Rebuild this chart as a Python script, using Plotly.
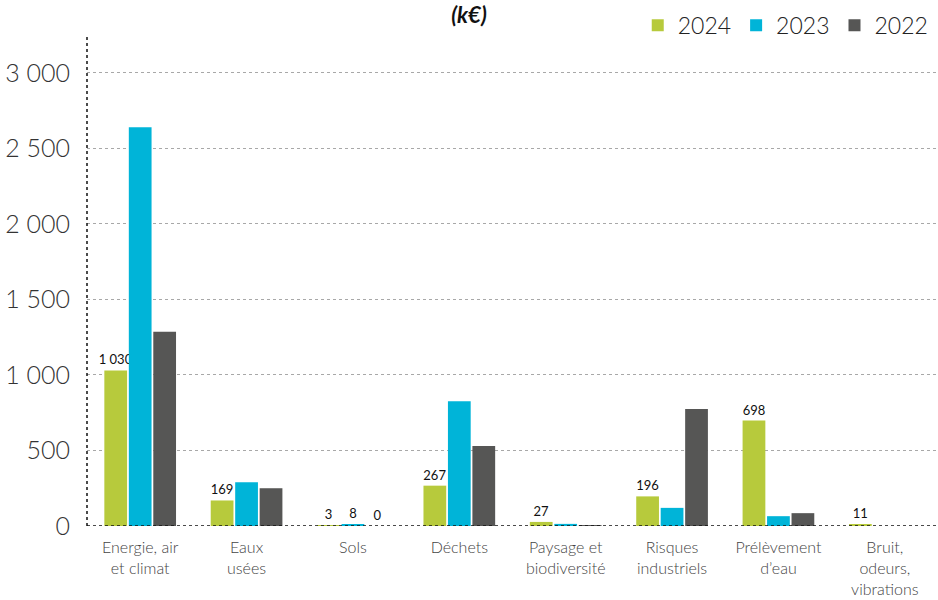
import plotly.graph_objects as go

categories = ["Energie, air<br>et climat", "Eaux<br>usées", "Sols", "Déchets",
              "Paysage et<br>biodiversité", "Risques<br>industriels",
              "Prélèvement<br>d’eau", "Bruit,<br>odeurs,<br>vibrations"]
years = ["2024", "2023", "2022"]
v2024 = [1030, 169, 3, 267, 27, 196, 698, 11]
v2023 = [2640, 290, 8, 825, 14, 120, 65, 0]
v2022 = [1285, 250, 0, 530, 3, 775, 85, 0]
labels2024 = ["1\u202f030", "169", "3", "267", "27", "196", "698", "11"]
labels2023 = ["", "", "8", "", "", "", "", ""]
labels2022 = ["", "", "0", "", "", "", "", ""]
colors = ["#b7ca3c", "#00b4d8", "#565655"]
tick_vals = [0, 500, 1000, 1500, 2000, 2500, 3000]
tick_text = ["0", "500", "1 000", "1 500", "2 000", "2 500", "3 000"]

FONT = "Lato"
fig = go.Figure()
for name, vals, labs, col in zip(years, [v2024, v2023, v2022],
                                 [labels2024, labels2023, labels2022], colors):
    fig.add_trace(go.Bar(
        name=name, x=categories, y=vals, marker_color=col, marker_line_width=0,
        text=labs, textposition="outside", cliponaxis=False, constraintext="none",
        textfont=dict(family=FONT, size=13, color="#111111"),
    ))

fig.update_layout(
    width=938, height=600,
    margin=dict(l=87, r=0, t=35, b=74, autoexpand=False),
    plot_bgcolor="white", paper_bgcolor="white",
    barmode="group", bargap=0.31, bargroupgap=0.07,
    uniformtext=dict(mode=False),
    title=dict(text="<i><b>(k€)</b></i>", x=0.5, xanchor="center",
               y=0.974, yanchor="middle", yref="container",
               font=dict(family=FONT, size=22, color="#111111")),
    legend=dict(orientation="h", x=0.995, xanchor="right", y=0.958, yanchor="middle",
                yref="container", font=dict(family=FONT, size=23, color="#222222", weight=300),
                traceorder="normal", itemwidth=30, bgcolor="rgba(0,0,0,0)"),
    font=dict(family=FONT),
)
fig.update_yaxes(range=[0, 3250], tickvals=tick_vals, ticktext=tick_text,
                 showgrid=True, gridcolor="#a8a8a8", griddash="dot", gridwidth=1,
                 zeroline=False, showline=False, ticks="", automargin=False,
                 tickfont=dict(family=FONT, size=25, color="#333333", weight=300),
                 ticklabelstandoff=16)
fig.update_xaxes(showline=False, ticks="", showgrid=False, automargin=False,
                 tickfont=dict(family=FONT, size=16, color="#444444", weight=300),
                 ticklabelstandoff=10)
# dotted axis lines
fig.add_shape(type="line", xref="paper", yref="y", x0=0, x1=1, y0=0, y1=0,
              line=dict(color="#111111", width=1.5, dash="dot"), layer="above")
fig.add_shape(type="line", xref="paper", yref="paper", x0=0, x1=0, y0=0, y1=1,
              line=dict(color="#111111", width=1.5, dash="dot"), layer="above")

fig.write_html("out.html", config={"displayModeBar": False},
               post_script="document.body.style.margin='0';document.body.style.overflow='hidden';")
